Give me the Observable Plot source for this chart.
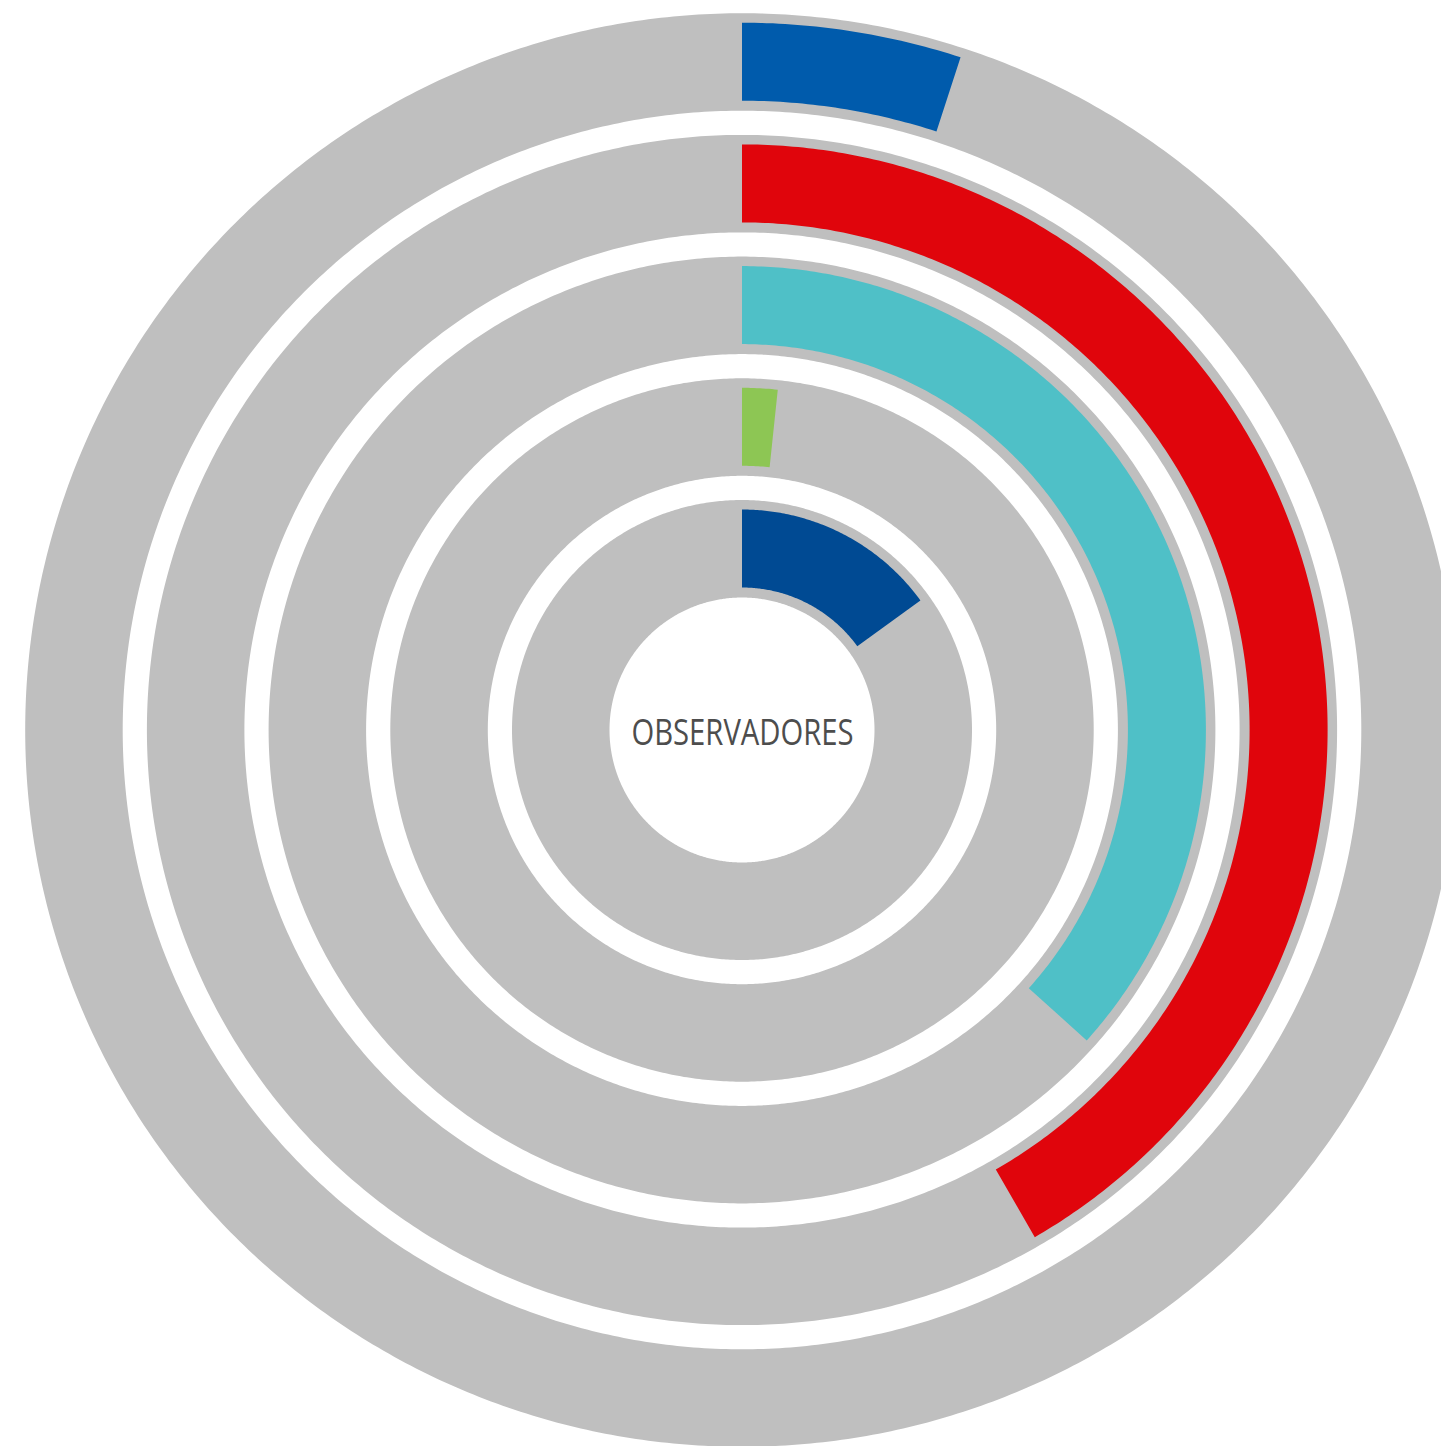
<!DOCTYPE html>
<html>
<head>
<meta charset="utf-8">
<script src="https://cdn.jsdelivr.net/npm/d3@7"></script>
<script src="https://cdn.jsdelivr.net/npm/@observablehq/plot@0.6"></script>
<style>
  html, body { margin: 0; padding: 0; background: #ffffff; overflow: hidden; }
  #chart svg { display: block; }
</style>
</head>
<body>
<div id="chart"></div>
<script>
// ---- Data (rings listed from the innermost to the outermost) ----
const categories = ["Grupo 1", "Grupo 2", "Grupo 3", "Grupo 4", "Grupo 5"];
const values = [9, 1, 22, 25, 3];            // observers per group (total 60)
const colors = ["#004A93", "#8DC654", "#4FC0C7", "#E0050C", "#005BAC"];
const centerLabel = "OBSERVADORES";

// ---- Layout ----
const W = 1441, H = 1446;
const holeRadius = 132.5, ringStep = 121.7, ringWidth = 97.5;
const barInsetIn = 10, barInsetOut = 9.5;
const total = d3.sum(values);

// angle: degrees clockwise from 12 o'clock; polar -> cartesian (y up)
function arcRows(ring, r0, r1, endDeg) {
  const rows = [];
  const n = Math.max(2, Math.ceil(endDeg / 0.5));
  for (let i = 0; i <= n; i++) {
    const a = (endDeg * i / n) * Math.PI / 180;
    rows.push({
      ring,
      xi: r0 * Math.sin(a), yi: r0 * Math.cos(a),
      xo: r1 * Math.sin(a), yo: r1 * Math.cos(a)
    });
  }
  return rows;
}

const trackRows = categories.flatMap((c, i) => {
  const r0 = holeRadius + i * ringStep;
  return arcRows(c, r0, r0 + ringWidth, 360);
});
const barRows = categories.flatMap((c, i) => {
  const r0 = holeRadius + i * ringStep;
  return arcRows(c, r0 + barInsetIn, r0 + ringWidth - barInsetOut, values[i] / total * 360);
});

const chart = Plot.plot({
  width: W,
  height: H,
  margin: 0,
  x: { domain: [-742, W - 742], axis: null },
  y: { domain: [-(H - 730), 730], axis: null },
  color: { domain: categories, range: colors },
  style: { background: "#ffffff" },
  marks: [
    Plot.area(trackRows, { x1: "xi", y1: "yi", x2: "xo", y2: "yo", z: "ring", fill: "#BFBFBF" }),
    Plot.area(barRows, { x1: "xi", y1: "yi", x2: "xo", y2: "yo", z: "ring", fill: "ring" }),
    Plot.text([centerLabel], {
      x: 0, y: 0, text: d => d,
      fontSize: 37, dy: 3,
      fontFamily: "'Liberation Sans Narrow', 'Open Sans', sans-serif",
      fill: "#4D4D4D"
    })
  ]
});

chart.querySelectorAll('g[aria-label="text"] text').forEach(t => {
  t.setAttribute("textLength", "222");
  t.setAttribute("lengthAdjust", "spacingAndGlyphs");
});

document.getElementById("chart").appendChild(chart);
</script>
</body>
</html>
